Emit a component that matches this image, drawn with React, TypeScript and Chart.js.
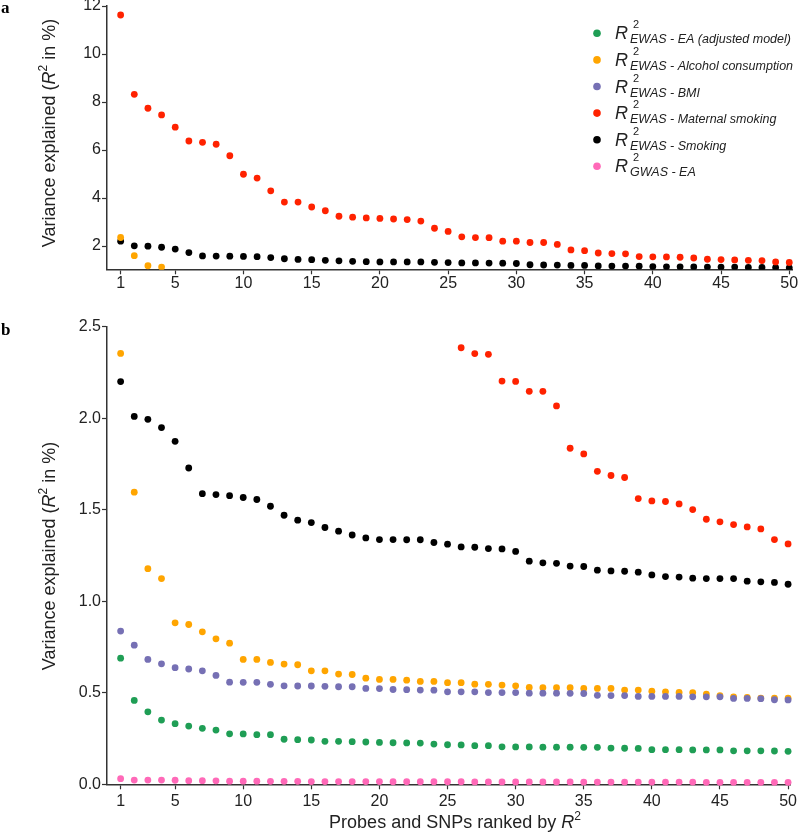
import React, { useEffect, useRef } from "react";
import { Chart, registerables } from "chart.js";

Chart.register(...registerables);

// ---------------- data ----------------
const ranks = [
  1, 2, 3, 4, 5, 6, 7, 8, 9, 10, 11, 12, 13, 14, 15, 16, 17, 18, 19, 20, 21, 22, 23, 24, 25,
  26, 27, 28, 29, 30, 31, 32, 33, 34, 35, 36, 37, 38, 39, 40, 41, 42, 43, 44, 45, 46, 47, 48, 49, 50,
];

const xTickValues = [1, 5, 10, 15, 20, 25, 30, 35, 40, 45, 50];
const yTicksA = [2, 4, 6, 8, 10, 12];
const yTicksB = [0, 0.5, 1.0, 1.5, 2.0, 2.5];

const seriesNames = [
  "EWAS - EA (adjusted model)",
  "EWAS - Alcohol consumption",
  "EWAS - BMI",
  "EWAS - Maternal smoking",
  "EWAS - Smoking",
  "GWAS - EA",
];

const eaAdjusted = [
  0.689, 0.458, 0.396, 0.351, 0.331, 0.318, 0.306, 0.296, 0.276, 0.275, 0.271, 0.271, 0.246, 0.244, 0.242,
  0.235, 0.235, 0.233, 0.231, 0.229, 0.227, 0.226, 0.225, 0.22, 0.216, 0.215, 0.211, 0.211, 0.205, 0.204,
  0.204, 0.203, 0.203, 0.203, 0.202, 0.202, 0.198, 0.197, 0.196, 0.189, 0.189, 0.189, 0.188, 0.188, 0.188,
  0.183, 0.183, 0.183, 0.182, 0.18,
];

const alcohol = [
  2.354, 1.596, 1.178, 1.124, 0.882, 0.873, 0.833, 0.795, 0.771, 0.682, 0.682, 0.666, 0.657, 0.653, 0.62,
  0.62, 0.602, 0.6, 0.58, 0.573, 0.573, 0.569, 0.562, 0.562, 0.555, 0.555, 0.547, 0.546, 0.542, 0.538,
  0.529, 0.528, 0.528, 0.528, 0.524, 0.524, 0.524, 0.515, 0.515, 0.509, 0.505, 0.502, 0.501, 0.493, 0.484,
  0.478, 0.475, 0.471, 0.47, 0.47,
];

const bmi = [
  0.837, 0.76, 0.682, 0.658, 0.637, 0.63, 0.62, 0.595, 0.558, 0.557, 0.557, 0.546, 0.538, 0.537, 0.537,
  0.535, 0.533, 0.533, 0.524, 0.523, 0.518, 0.517, 0.515, 0.514, 0.505, 0.505, 0.505, 0.501, 0.501, 0.501,
  0.498, 0.498, 0.498, 0.497, 0.496, 0.486, 0.485, 0.485, 0.48, 0.48, 0.48, 0.48, 0.478, 0.478, 0.478,
  0.469, 0.469, 0.468, 0.462, 0.461,
];

const maternalSmoking = [
  11.625, 8.32, 7.74, 7.46, 6.95, 6.375, 6.32, 6.24, 5.76, 4.99, 4.83, 4.3, 3.83, 3.83, 3.625, 3.47, 3.24,
  3.2, 3.17, 3.15, 3.125, 3.1, 3.04, 2.74, 2.61, 2.385, 2.353, 2.349, 2.203, 2.201, 2.147, 2.147, 2.067,
  1.836, 1.805, 1.71, 1.687, 1.676, 1.561, 1.548, 1.545, 1.532, 1.501, 1.448, 1.434, 1.419, 1.406, 1.395,
  1.337, 1.313,
];

const smoking = [
  2.2, 2.01, 1.994, 1.949, 1.874, 1.728, 1.588, 1.583, 1.577, 1.567, 1.556, 1.519, 1.47, 1.443, 1.43, 1.403,
  1.383, 1.362, 1.346, 1.337, 1.337, 1.336, 1.336, 1.321, 1.312, 1.297, 1.295, 1.288, 1.286, 1.272, 1.219,
  1.21, 1.207, 1.192, 1.19, 1.17, 1.166, 1.164, 1.159, 1.144, 1.135, 1.132, 1.126, 1.124, 1.124, 1.124, 1.11,
  1.106, 1.103, 1.093,
];

const gwasEA = [
  0.031, 0.023, 0.023, 0.023, 0.022, 0.02, 0.02, 0.019, 0.017, 0.017, 0.017, 0.016, 0.016, 0.016, 0.015,
  0.015, 0.015, 0.015, 0.015, 0.015, 0.014, 0.014, 0.014, 0.014, 0.014, 0.014, 0.013, 0.013, 0.013, 0.013,
  0.013, 0.013, 0.013, 0.013, 0.012, 0.012, 0.012, 0.012, 0.012, 0.012, 0.012, 0.012, 0.012, 0.011, 0.011,
  0.011, 0.011, 0.011, 0.011, 0.011,
];

const seriesValues = [eaAdjusted, alcohol, bmi, maternalSmoking, smoking, gwasEA];
const seriesColors = ["#1f9e55", "#ffa500", "#7670b4", "#ff2200", "#000000", "#ff69b8"];
// drawing priority (lower = drawn on top)
const seriesOrder = [1, 3, 2, 4, 5, 6];

// ---------------- styling ----------------
const F = "'Liberation Sans', Arial, Helvetica, sans-serif";
const TEXT = "#222";

type Seg = { t: string; font: string; dy?: number };

function drawRich(ctx: CanvasRenderingContext2D, segs: Seg[], x: number, y: number, align: "left" | "center") {
  ctx.textAlign = "left";
  ctx.textBaseline = "alphabetic";
  let total = 0;
  const widths = segs.map((s) => {
    ctx.font = s.font;
    const w = ctx.measureText(s.t).width;
    total += w;
    return w;
  });
  let cx = align === "center" ? x - total / 2 : x;
  segs.forEach((s, i) => {
    ctx.font = s.font;
    ctx.fillText(s.t, cx, y + (s.dy || 0));
    cx += widths[i];
  });
}

const yTitleSegs: Seg[] = [
  { t: "Variance explained (", font: `18px ${F}` },
  { t: "R", font: `italic 18px ${F}` },
  { t: "2", font: `12px ${F}`, dy: -8 },
  { t: " in %)", font: `18px ${F}` },
];

const xTitleSegs: Seg[] = [
  { t: "Probes and SNPs ranked by ", font: `18px ${F}` },
  { t: "R", font: `italic 18px ${F}` },
  { t: "2", font: `12px ${F}`, dy: -8 },
];

type PanelCfg = {
  canvasTop: number;
  height: number;
  yMin: number;
  yMax: number;
  yTicks: number[];
  yDecimals: number;
  padTop: number;
  xAxisHeight: number;
  xTickPad: number;
  clipBottom: number;
  yTitleCenter: number; // page y
  panelLabel: string;
  panelLabelBaseline: number; // page y
  showLegend: boolean;
  showXTitle: boolean;
};

function makeChart(canvas: HTMLCanvasElement, cfg: PanelCfg) {
  const toC = (pageY: number) => pageY - cfg.canvasTop;

  const extras = {
    id: "extras" + cfg.panelLabel,
    afterDraw(chart: any) {
      const ctx: CanvasRenderingContext2D = chart.ctx;
      ctx.save();
      ctx.fillStyle = TEXT;

      // y-axis title (rotated)
      ctx.save();
      ctx.translate(48, toC(cfg.yTitleCenter));
      ctx.rotate(-Math.PI / 2);
      drawRich(ctx, yTitleSegs, 0, 6.5, "center");
      ctx.restore();

      // x-axis title
      if (cfg.showXTitle) {
        drawRich(ctx, xTitleSegs, 455, toC(828), "center");
      }

      // panel label
      ctx.fillStyle = "#000";
      ctx.font = `bold 17px 'Liberation Serif', 'Times New Roman', serif`;
      ctx.textAlign = "left";
      ctx.textBaseline = "alphabetic";
      ctx.fillText(cfg.panelLabel, 1, toC(cfg.panelLabelBaseline));

      // legend
      if (cfg.showLegend) {
        seriesNames.forEach((name, i) => {
          const cy = toC(33.3 + i * 26.6);
          ctx.beginPath();
          ctx.fillStyle = seriesColors[i];
          ctx.arc(597, cy, 3.8, 0, Math.PI * 2);
          ctx.fill();
          ctx.fillStyle = TEXT;
          drawRich(ctx, [{ t: "R", font: `italic 18px ${F}` }], 615, cy + 6, "left");
          drawRich(ctx, [{ t: "2", font: `11px ${F}` }], 633, cy - 5, "left");
          drawRich(ctx, [{ t: name, font: `italic 12.5px ${F}` }], 630, cy + 10, "left");
        });
      }
      ctx.restore();
    },
  };

  const datasets = seriesNames.map((name, i) => ({
    label: name,
    data: ranks.map((r, j) => ({ x: r, y: seriesValues[i][j] })),
    backgroundColor: seriesColors[i],
    borderColor: seriesColors[i],
    pointRadius: 3.4,
    pointHoverRadius: 3.4,
    pointBorderWidth: 0,
    showLine: false,
    order: seriesOrder[i],
    clip: { left: 6, right: 6, top: 2, bottom: cfg.clipBottom },
  }));

  return new Chart(canvas, {
    type: "scatter",
    data: { datasets },
    plugins: [extras],
    options: {
      responsive: false,
      animation: false,
      devicePixelRatio: 1,
      events: [],
      layout: { padding: { top: cfg.padTop, left: 0, right: 8, bottom: 0 } },
      plugins: { legend: { display: false }, tooltip: { enabled: false }, title: { display: false } },
      scales: {
        x: {
          type: "linear",
          min: 0,
          max: 50.2,
          afterBuildTicks: (s: any) => {
            s.ticks = xTickValues.map((v) => ({ value: v }));
          },
          afterFit: (s: any) => {
            s.height = cfg.xAxisHeight;
          },
          ticks: {
            autoSkip: false,
            maxRotation: 0,
            padding: cfg.xTickPad,
            color: TEXT,
            font: { family: F, size: 16 },
            callback: (v: any) => String(v),
          },
          grid: {
            drawOnChartArea: false,
            drawTicks: true,
            tickLength: 5,
            tickColor: "#333",
            tickWidth: 1.2,
          },
          border: { display: true, color: "#333", width: 1.5 },
        },
        y: {
          type: "linear",
          min: cfg.yMin,
          max: cfg.yMax,
          afterBuildTicks: (s: any) => {
            s.ticks = cfg.yTicks.map((v) => ({ value: v }));
          },
          afterFit: (s: any) => {
            s.width = 107;
          },
          ticks: {
            padding: 1,
            color: TEXT,
            font: { family: F, size: 16 },
            callback: (v: any) => Number(v).toFixed(cfg.yDecimals),
          },
          grid: {
            drawOnChartArea: false,
            drawTicks: true,
            tickLength: 5,
            tickColor: "#333",
            tickWidth: 1.2,
          },
          border: { display: true, color: "#333", width: 1.5 },
        },
      },
    } as any,
  });
}

const panelA: PanelCfg = {
  canvasTop: -20,
  height: 320,
  yMin: 1.03,
  yMax: 12,
  yTicks: yTicksA,
  yDecimals: 0,
  padTop: 26,
  xAxisHeight: 30.7,
  xTickPad: 0,
  clipBottom: 0.5,
  yTitleCenter: 133,
  panelLabel: "a",
  panelLabelBaseline: 13,
  showLegend: true,
  showXTitle: false,
};

const panelB: PanelCfg = {
  canvasTop: 300,
  height: 533,
  yMin: 0,
  yMax: 2.5,
  yTicks: yTicksB,
  yDecimals: 1,
  padTop: 26.7,
  xAxisHeight: 48.7,
  xTickPad: 3,
  clipBottom: 2,
  yTitleCenter: 556,
  panelLabel: "b",
  panelLabelBaseline: 335,
  showLegend: false,
  showXTitle: true,
};

function Panel({ cfg }: { cfg: PanelCfg }) {
  const ref = useRef<HTMLCanvasElement | null>(null);
  useEffect(() => {
    if (!ref.current) return;
    const chart = makeChart(ref.current, cfg);
    return () => chart.destroy();
  }, [cfg]);
  return (
    <canvas
      ref={ref}
      width={800}
      height={cfg.height}
      style={{ position: "absolute", left: 0, top: cfg.canvasTop, width: 800, height: cfg.height, display: "block" }}
    />
  );
}

export default function App() {
  return (
    <div style={{ position: "absolute", left: 0, top: 0, width: 800, height: 833, overflow: "hidden", background: "#fff" }}>
      <Panel cfg={panelA} />
      <Panel cfg={panelB} />
    </div>
  );
}
